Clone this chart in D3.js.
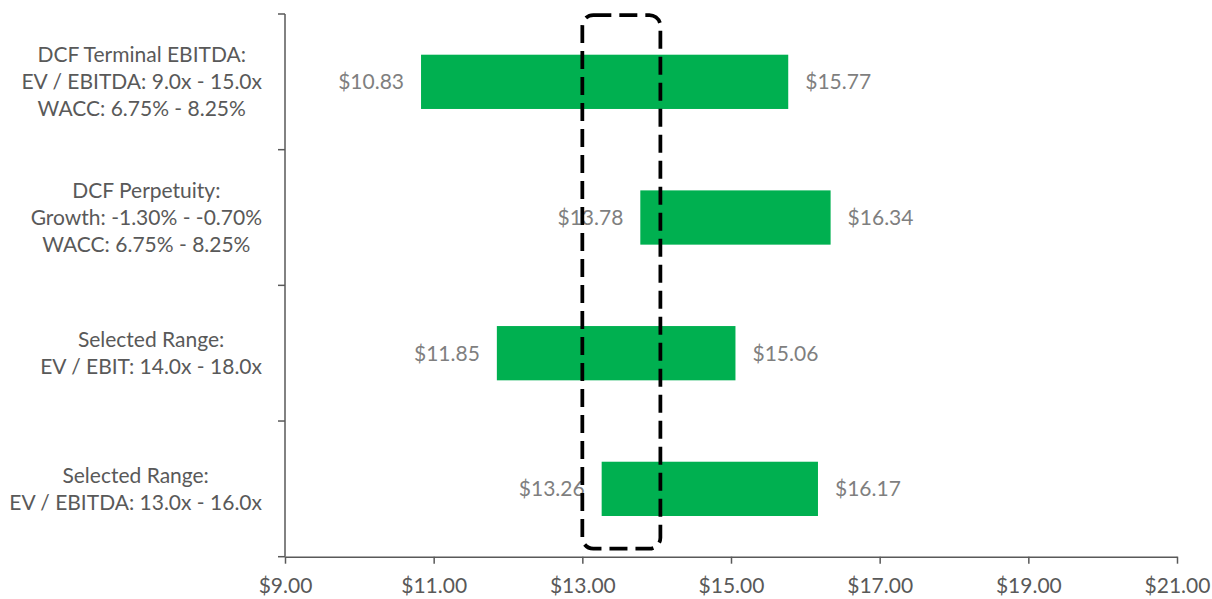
<!DOCTYPE html>
<html>
<head>
<meta charset="utf-8">
<script src="https://cdn.jsdelivr.net/npm/d3@7"></script>
<style>
  html, body { margin: 0; padding: 0; background: #ffffff; }
  svg { display: block; }
  text { font-family: Lato, "Open Sans", sans-serif; }
</style>
</head>
<body>
<svg id="chart" width="1212" height="599"></svg>
<script>
// ---- data ----
const categories = [
  ["DCF Terminal EBITDA:", "EV / EBITDA: 9.0x - 15.0x", "WACC: 6.75% - 8.25%"],
  ["DCF Perpetuity:", "Growth: -1.30% - -0.70%", "WACC: 6.75% - 8.25%"],
  ["Selected Range:", "EV / EBIT: 14.0x - 18.0x"],
  ["Selected Range:", "EV / EBITDA: 13.0x - 16.0x"]
];
const lowValues  = [10.83, 13.78, 11.85, 13.26];
const highValues = [15.77, 16.34, 15.06, 16.17];
const xTicks = [9, 11, 13, 15, 17, 19, 21];
const highlightRange = [13.0, 14.05];

// ---- layout ----
const W = 1212, H = 599;
const margin = { top: 14, right: 35, bottom: 42.3, left: 285 };
const svg = d3.select("#chart");

const x = d3.scaleLinear()
  .domain([xTicks[0], xTicks[xTicks.length - 1]])
  .range([margin.left, W - margin.right]);

const y = d3.scaleBand()
  .domain(d3.range(categories.length))
  .range([margin.top, H - margin.bottom])
  .padding(0);

const barFrac = 0.4;
const barH = y.bandwidth() * barFrac;
const axisColor = "#595959";
const labelColor = "#595959";
const valueColor = "#7f7f7f";
const fs = 21;

// ---- bars ----
const rows = d3.range(categories.length).map(i => ({ i, lo: lowValues[i], hi: highValues[i] }));

svg.append("g").selectAll("rect").data(rows).join("rect")
  .attr("x", d => x(d.lo))
  .attr("width", d => x(d.hi) - x(d.lo))
  .attr("y", d => y(d.i) + (y.bandwidth() - barH) / 2)
  .attr("height", barH)
  .attr("fill", "#00b050");

// ---- value labels ----
const vl = svg.append("g").attr("font-size", fs).attr("fill", valueColor);
vl.selectAll("text.lo").data(rows).join("text").attr("class", "lo")
  .attr("x", d => x(d.lo) - 17)
  .attr("y", d => y(d.i) + y.bandwidth() / 2)
  .attr("dy", "0.35em")
  .attr("text-anchor", "end")
  .text(d => "$" + d.lo.toFixed(2));
vl.selectAll("text.hi").data(rows).join("text").attr("class", "hi")
  .attr("x", d => x(d.hi) + 17)
  .attr("y", d => y(d.i) + y.bandwidth() / 2)
  .attr("dy", "0.35em")
  .attr("text-anchor", "start")
  .text(d => "$" + d.hi.toFixed(2));

// ---- x axis ----
const xAxis = svg.append("g")
  .attr("transform", `translate(0,${H - margin.bottom})`)
  .call(d3.axisBottom(x).tickValues(xTicks).tickSize(7).tickSizeOuter(0)
    .tickFormat(d => "$" + d3.format(".2f")(d)));
xAxis.select(".domain").attr("stroke", axisColor).attr("stroke-width", 1.5);
xAxis.selectAll(".tick line").attr("stroke", axisColor).attr("stroke-width", 1.5);
xAxis.selectAll(".tick text")
  .attr("font-family", "Lato, 'Open Sans', sans-serif")
  .attr("font-size", fs).attr("fill", labelColor).attr("y", 21).attr("dy", "0.71em");

// ---- y axis (category separators) ----
const yAxisG = svg.append("g");
yAxisG.append("line")
  .attr("x1", margin.left).attr("x2", margin.left)
  .attr("y1", margin.top).attr("y2", H - margin.bottom)
  .attr("stroke", axisColor).attr("stroke-width", 1.5);
const bounds = d3.range(categories.length + 1).map(i =>
  i < categories.length ? y(i) : y(categories.length - 1) + y.bandwidth());
yAxisG.selectAll("line.tk").data(bounds).join("line").attr("class", "tk")
  .attr("x1", margin.left - 7).attr("x2", margin.left)
  .attr("y1", d => d).attr("y2", d => d)
  .attr("stroke", axisColor).attr("stroke-width", 1.5);

// ---- category labels ----
const lineH = 27;
const labelRight = margin.left - 23;
categories.forEach((lines, i) => {
  const g = svg.append("g").attr("font-size", fs).attr("fill", labelColor);
  const cy = y(i) + y.bandwidth() / 2;
  const texts = lines.map((s, k) => g.append("text")
    .attr("y", cy + (k - (lines.length - 1) / 2) * lineH)
    .attr("dy", "0.35em")
    .attr("text-anchor", "middle")
    .text(s));
  const maxW = d3.max(texts, t => t.node().getComputedTextLength());
  const cx = labelRight - maxW / 2;
  texts.forEach(t => t.attr("x", cx));
});

// ---- dashed highlight box ----
svg.append("rect")
  .attr("x", x(highlightRange[0]))
  .attr("width", x(highlightRange[1]) - x(highlightRange[0]))
  .attr("y", margin.top + 1)
  .attr("height", (H - margin.bottom - 8) - (margin.top + 1))
  .attr("rx", 11).attr("ry", 11)
  .attr("fill", "none")
  .attr("stroke", "#000000")
  .attr("stroke-width", 3.75)
  .attr("stroke-dasharray", "18,8");
</script>
</body>
</html>
